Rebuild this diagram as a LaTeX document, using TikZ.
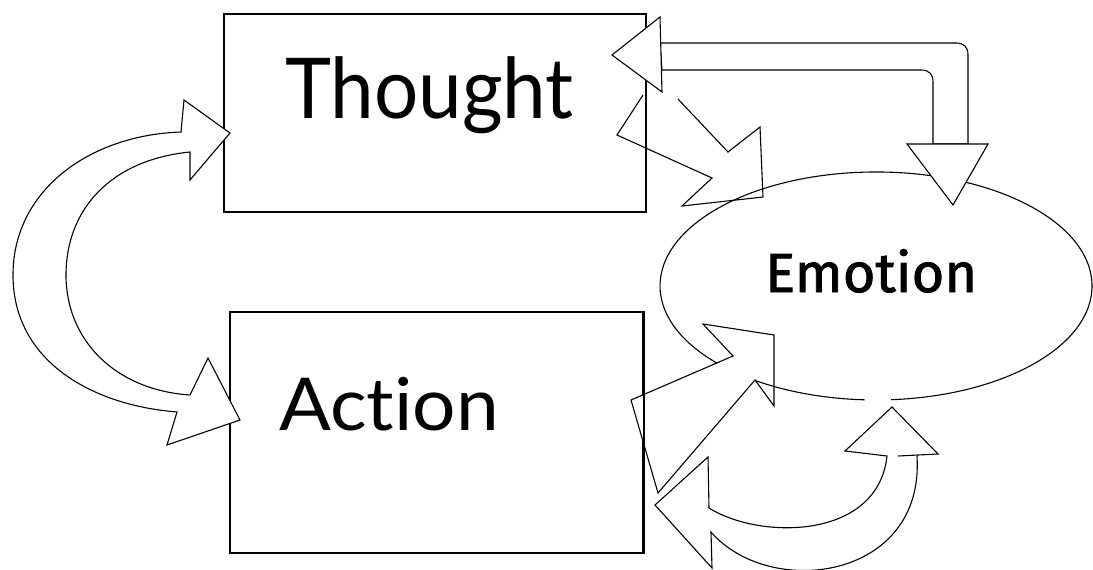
\documentclass[tikz,border=0pt]{standalone}
\usepackage{fontspec}
\setmainfont{Fira Sans}
\newfontfamily\thinfont{Lato}[Ligatures=CommonOff]
\newfontfamily\heavyfont{Fira Sans}[FakeBold=1.5]
\usetikzlibrary{shapes.geometric}
\begin{document}
\begin{tikzpicture}[x=1pt,y=-1pt,
  box/.style={draw, line width=1.5pt, rectangle, inner sep=0pt},
  blockarrow/.style={draw, line width=1.1pt, line join=miter, fill=white},
  outline/.style={draw, line width=1.1pt, line join=miter},
  word/.style={anchor=base west, inner sep=0pt}]

\useasboundingbox (0,0) rectangle (1093,570);

% the two boxes
\node[box, minimum width=422pt, minimum height=198pt] (thought) at (435,113) {};
\node[box, minimum width=413pt, minimum height=241pt] (action) at (436.5,432.5) {};

% labels of the boxes
\node[word, font=\fontsize{84}{84}\thinfont] (thoughttext) at (285,118) {\scalebox{0.93}[1]{Thought}};
\node[word, font=\fontsize{73}{73}\thinfont] (actiontext) at (279,430) {\scalebox{1.05}[1]{Action}};

% curved double arrow between Thought and Action
\draw[blockarrow] (181,132) -- (184,100) -- (230,133) -- (190,180) -- (190,152)
  .. controls (110,160) and (66,210) .. (66,275)
  .. controls (66,340) and (115,390) .. (190,395)
  -- (208,358) -- (240,420) -- (167,445) -- (177,412)
  .. controls (90,405) and (13,360) .. (13,275)
  .. controls (13,190) and (90,135) .. (181,132) -- cycle;

% the Emotion ellipse (open at the bottom)
\node[ellipse, minimum width=432pt, minimum height=228pt, inner sep=0pt] (emotion) at (876,286) {};
\draw[line width=1.1pt] (891.1,399.7) arc[start angle=274, end angle=627, x radius=216pt, y radius=114pt];
\node[word, font=\fontsize{55}{55}\heavyfont] (emotiontext) at (765,292) {\scalebox{1.02}[1]{Emotion}};

% Action -> Emotion
\path[fill=white] (631,400) -- (733,356) -- (755,380) -- (658,493) -- cycle;
\draw[line width=1.5pt] (action.north east) -- (action.south east);
\draw[outline] (631,400) -- (733,356) -- (703,324) -- (774,335) -- (774,406) -- (755,380) -- (658,493) -- cycle;

% Thought -> Emotion
\draw[outline] (678,99) -- (728,152) -- (760,127) -- (763,197) -- (682,206) -- (712,178) -- (617,135) -- (643,95);

% Emotion -> Thought, bent along the top
\draw[blockarrow] (660,43) -- (956,43) .. controls (964,43) and (968,47) .. (968,55) -- (968,144)
  -- (933,144) -- (933,82) .. controls (933,74) and (929,70) .. (921,70) -- (662,70) -- cycle;
\draw[blockarrow] (612,55) -- (660,17) -- (662,92) -- cycle;
\draw[blockarrow] (907,144) -- (988,144) -- (953,205) -- cycle;

% loop between Emotion and Action
\draw[outline] (898,456) -- (938,454) -- (892,407) -- (845,451) -- (887,456)
  .. controls (878,540) and (760,540) .. (709,508)
  -- (708,457) -- (655,505) -- (712,568) -- (711,532)
  .. controls (770,600) and (925,580) .. (917,456);
\end{tikzpicture}
\end{document}
